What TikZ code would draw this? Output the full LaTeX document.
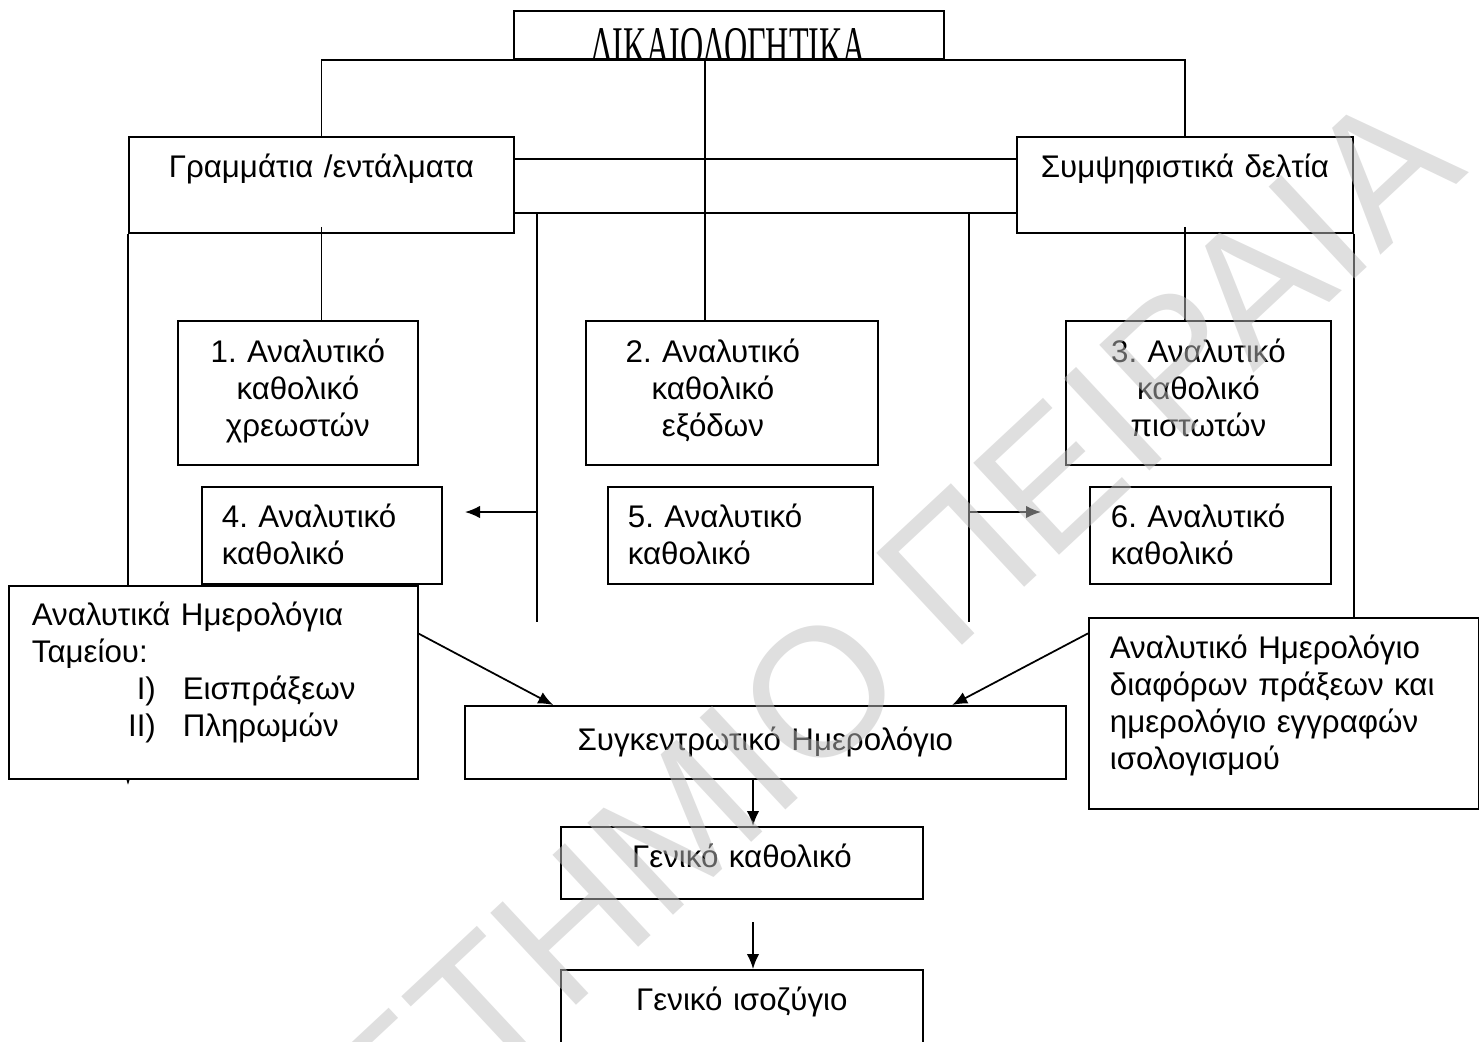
\documentclass[tikz,border=0pt]{standalone}
\usepackage{fontspec}
\usepackage{graphicx}
\setmainfont{Liberation Sans}
\newfontfamily\titlefont{Liberation Serif}
\usetikzlibrary{arrows.meta,calc}
\newdimen\pxu \pxu=0.02cm
\newcommand{\diagfont}{\frenchspacing\fontsize{17.8}{21}\selectfont}
\tikzstyle{box} = [rectangle, draw=black, line width=1pt, fill=white, inner sep=0pt, anchor=north west, font=\diagfont]
\tikzstyle{cbox} = [box, align=center]
\tikzstyle{lbox} = [box, align=left]
\tikzstyle{line} = [line width=1pt]
\tikzstyle{arrow} = [line width=1pt,->,>={Latex[length=0.3cm,width=0.25cm]}]
\tikzstyle{wm} = [font=\fontsize{104}{104}\selectfont, text=black!25, opacity=0.5, rotate=43]

\begin{document}
\begin{tikzpicture}[x=1\pxu, y=-1\pxu]
	\useasboundingbox (0,0) rectangle (1479,1041);
	\node (title) [box, minimum width=430\pxu, minimum height=48\pxu, path picture={\node [draw=none, fill=none, anchor=base] at ($(path picture bounding box.north)+(0,54)$) {\titlefont\fontsize{31}{31}\selectfont\scalebox{0.59}[1]{ΔΙΚΑΙΟΛΟΓΗΤΙΚΑ}};}] at (513,10) {};
	\node (gramm) [cbox, text width=385\pxu, text height=41\pxu, text depth=55\pxu] at (128,136) {Γραμμάτια /εντάλματα};
	\node (symps) [cbox, text width=336\pxu, text height=41\pxu, text depth=55\pxu] at (1016,136) {Συμψηφιστικά δελτία};
	\node (an1) [cbox, text width=240\pxu, text height=42\pxu, text depth=102\pxu] at (177,320) {1. Αναλυτικό\\καθολικό\\χρεωστών};
	\node (an2) [cbox, text width=292\pxu, text height=42\pxu, text depth=102\pxu] at (585,320) {2. Αναλυτικό\kern38\pxu\\καθολικό\kern38\pxu\\εξόδων\kern38\pxu};
	\node (an3) [cbox, text width=265\pxu, text height=42\pxu, text depth=102\pxu] at (1065,320) {3. Αναλυτικό\\καθολικό\\πιστωτών};
	\node (an4) [lbox, inner xsep=20\pxu, text width=200\pxu, text height=41\pxu, text depth=56\pxu] at (201,486) {4. Αναλυτικό\\καθολικό};
	\node (an5) [lbox, inner xsep=20\pxu, text width=225\pxu, text height=41\pxu, text depth=56\pxu] at (607,486) {5. Αναλυτικό\\καθολικό};
	\node (an6) [lbox, inner xsep=21\pxu, text width=199\pxu, text height=41\pxu, text depth=56\pxu] at (1089,486) {6. Αναλυτικό\\καθολικό};
	\node (synk) [cbox, text width=601\pxu, text height=45\pxu, text depth=28\pxu] at (464,705) {Συγκεντρωτικό Ημερολόγιο};
	\node (diaf) [lbox, inner xsep=21\pxu, text width=348\pxu, text height=41\pxu, text depth=150\pxu] at (1088,617) {Αναλυτικό Ημερολόγιο\\διαφόρων πράξεων και\\ημερολόγιο εγγραφών\\ισολογισμού};
	\node (genkath) [cbox, text width=362\pxu, text height=41\pxu, text depth=31\pxu] at (560,826) {Γενικό καθολικό};
	\node (genisoz) [cbox, text width=362\pxu, text height=41\pxu, text depth=50\pxu] at (560,969) {Γενικό ισοζύγιο};
	\coordinate (hi) at (0,159);
	\coordinate (lo) at (0,213);
	\coordinate (lbus) at (537,622);
	\coordinate (rbus) at (969,622);
	\coordinate (ltip) at (465,512);
	\coordinate (rtip) at (1041,512);
	\coordinate (gtip) at (128,785);
	\coordinate (cv) at ([xshift=-24\pxu]title.south);
	\coordinate (vx) at (753,0);
	\coordinate (g2) at (753,922);
	\draw [arrow] (gramm.south west) -- (gtip);
	\node (tameio) [lbox, inner xsep=23\pxu, text width=363\pxu, text height=40\pxu, text depth=153\pxu] at (8,585) {Αναλυτικά Ημερολόγια\\Ταμείου:\\\makebox[124\pxu][r]{I)}\hspace{27\pxu}Εισπράξεων\\\makebox[124\pxu][r]{II)}\hspace{27\pxu}Πληρωμών};
	\draw [line] (gramm.north) |- (title.south west) -- (title.south east) -| (symps.north);
	\draw [line] (cv) -- (cv |- an2.north);
	\draw [line] (gramm.east |- hi) -- (symps.west |- hi);
	\draw [line] (gramm.east |- lo) -- (symps.west |- lo);
	\draw [line] (lbus |- lo) -- (lbus);
	\draw [line] (rbus |- lo) -- (rbus);
	\draw [arrow] (lbus |- ltip) -- (ltip);
	\draw [arrow] (rbus |- rtip) -- (rtip);
	\draw [line] ([yshift=7\pxu]gramm.south) -- (gramm.south |- an1.north);
	\draw [line] ([yshift=7\pxu]symps.south) -- (symps.south |- an3.north);
	\draw [line] (symps.south east) -- (symps.south east |- diaf.north);
	\draw [arrow] ($(tameio.north east)!0.25!(tameio.south east)$) -- ($(synk.north west)!0.148!(synk.north east)$);
	\draw [arrow] ($(diaf.north west)!0.085!(diaf.south west)$) -- ($(synk.north west)!0.81!(synk.north east)$);
	\draw [arrow] (synk.south -| vx) -- (genkath.north -| vx);
	\draw [arrow] (g2) -- (genisoz.north -| g2);
	\node (wmark) [wm] at (640,860) {ΠΑΝΕΠΙΣΤΗΜΙΟ ΠΕΙΡΑΙΑ};
\end{tikzpicture}
\end{document}
